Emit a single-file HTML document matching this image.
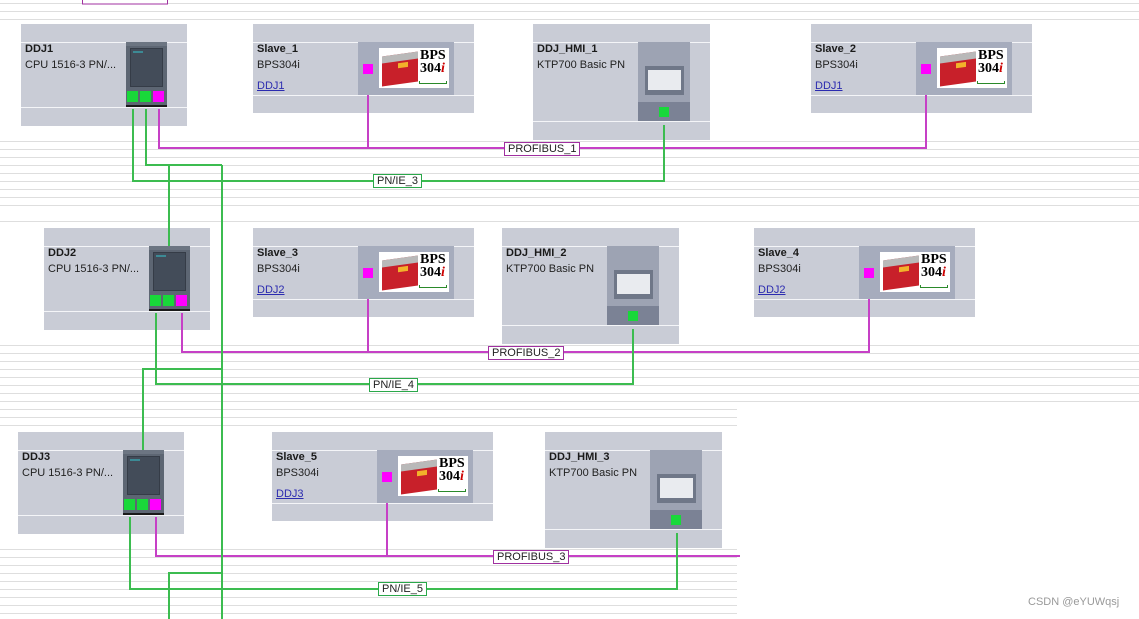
<!DOCTYPE html>
<html><head><meta charset="utf-8">
<style>
*{margin:0;padding:0;box-sizing:border-box}
body{width:1139px;height:619px;overflow:hidden;background:#fff;position:relative;font-family:"Liberation Sans",sans-serif;font-size:11px;color:#222}
.bg{position:absolute;left:0;top:0}
.n{position:absolute;background:#c9ccd6}
.n .l{position:absolute;left:0;right:0;height:1px;background:#f4f5f8}
.n .t{position:absolute;left:4px;line-height:13px;white-space:nowrap}
.n .b{font-weight:bold;color:#1a1a1a}
.n .k{color:#2b2bb0;text-decoration:underline}
.cpu{position:absolute;width:41px;height:65px;background:#5d6673;border-bottom:2px solid #1a1a1a}
.cpu .s{position:absolute;left:4px;top:6px;width:33px;height:39px;background:#434c59;border:1px solid #353c47}
.cpu .s:before{content:"";position:absolute;left:2px;top:2px;width:10px;height:2px;background:#3c8a95}
.cpu .tp{position:absolute;left:0;right:0;top:0;height:4px;background:#6c7582}
.p{position:absolute;width:11px;height:11px}
.g{background:#19d83a}.m{background:#f0f}
.sd{position:absolute;width:96px;height:53px;background:#a6acbd}
.img{position:absolute;left:21px;top:6px;width:70px;height:40px;background:#fff}
.dev{position:absolute;left:3px;top:6px;width:36px;height:30px;background:#c8202a;border-top:7px solid #b9b9b9;transform:skewY(-8deg)}
.dev:after{content:"";position:absolute;left:16px;top:2px;width:10px;height:5px;background:#f2b22a}
.bps{position:absolute;left:41px;top:1px;font-family:"Liberation Serif",serif;font-weight:bold;font-size:14px;line-height:13px;color:#000}
.bps i{color:#c00}
.ruler{position:absolute;left:40px;top:33px;width:28px;height:3px;border-bottom:1px solid #2a8a2a;border-left:1px solid #2a8a2a;border-right:1px solid #2a8a2a}
.hm{position:absolute;width:52px;height:79px;background:#9da3b3}
.hm .lo{position:absolute;left:0;right:0;bottom:0;height:19px;background:#7b8295}
.hm .sc{position:absolute;left:7px;top:24px;width:39px;height:29px;background:#6f7788;padding:4px 3px 5px 3px}
.hm .sc div{width:100%;height:100%;background:#e9ebef}
.lab{position:absolute;background:#fff;font-size:11px;line-height:12px;padding:0 3px;white-space:nowrap}
.lp{border:1px solid #a030a0}
.lg{border:1px solid #2aa84a}
</style></head><body>
<svg class="bg" width="1139" height="619">
<g stroke="#dedede" stroke-width="1">
<line x1="0" y1="3.5" x2="1139" y2="3.5"/><line x1="0" y1="11.5" x2="1139" y2="11.5"/><line x1="0" y1="19.5" x2="1139" y2="19.5"/>
<line x1="0" y1="141.5" x2="1139" y2="141.5"/><line x1="0" y1="149.5" x2="1139" y2="149.5"/><line x1="0" y1="157.5" x2="1139" y2="157.5"/><line x1="0" y1="165.5" x2="1139" y2="165.5"/><line x1="0" y1="173.5" x2="1139" y2="173.5"/><line x1="0" y1="181.5" x2="1139" y2="181.5"/><line x1="0" y1="189.5" x2="1139" y2="189.5"/><line x1="0" y1="197.5" x2="1139" y2="197.5"/><line x1="0" y1="205.5" x2="1139" y2="205.5"/><line x1="0" y1="221.5" x2="1139" y2="221.5"/>
<line x1="0" y1="345.5" x2="1139" y2="345.5"/><line x1="0" y1="353.5" x2="1139" y2="353.5"/><line x1="0" y1="361.5" x2="1139" y2="361.5"/><line x1="0" y1="369.5" x2="1139" y2="369.5"/><line x1="0" y1="377.5" x2="1139" y2="377.5"/><line x1="0" y1="385.5" x2="1139" y2="385.5"/><line x1="0" y1="393.5" x2="1139" y2="393.5"/><line x1="0" y1="401.5" x2="1139" y2="401.5"/>
<line x1="0" y1="409.5" x2="737" y2="409.5"/><line x1="0" y1="417.5" x2="737" y2="417.5"/><line x1="0" y1="425.5" x2="737" y2="425.5"/>
<line x1="0" y1="549.5" x2="737" y2="549.5"/><line x1="0" y1="557.5" x2="737" y2="557.5"/><line x1="0" y1="565.5" x2="737" y2="565.5"/><line x1="0" y1="573.5" x2="737" y2="573.5"/><line x1="0" y1="581.5" x2="737" y2="581.5"/><line x1="0" y1="589.5" x2="737" y2="589.5"/><line x1="0" y1="597.5" x2="737" y2="597.5"/><line x1="0" y1="605.5" x2="737" y2="605.5"/><line x1="0" y1="613.5" x2="737" y2="613.5"/>
</g>
<rect x="82.5" y="-5" width="85" height="9" fill="#fff" stroke="#a030a0"/>
</svg>

<!-- Row 1 -->
<div class="n" style="left:21px;top:24px;width:166px;height:102px"><div class="l" style="top:18px"></div><div class="l" style="top:83px"></div>
<div class="t b" style="top:19px">DDJ1</div><div class="t" style="top:35px">CPU 1516-3 PN/...</div>
<div class="cpu" style="left:105px;top:18px"><div class="tp"></div><div class="s"></div><div class="p g" style="left:1px;top:49px"></div><div class="p g" style="left:14px;top:49px"></div><div class="p m" style="left:27px;top:49px"></div></div></div>

<div class="n" style="left:253px;top:24px;width:221px;height:89px"><div class="l" style="top:18px"></div><div class="l" style="top:71px"></div>
<div class="t b" style="top:19px">Slave_1</div><div class="t" style="top:35px">BPS304i</div><div class="t k" style="top:56px">DDJ1</div>
<div class="sd" style="left:105px;top:18px"><div class="p m" style="left:5px;top:22px;width:10px;height:10px"></div><div class="img"><div class="dev"></div><div class="bps">BPS<br>304<i>i</i></div><div class="ruler"></div></div></div></div>

<div class="n" style="left:533px;top:24px;width:177px;height:116px"><div class="l" style="top:18px"></div><div class="l" style="top:97px"></div>
<div class="t b" style="top:19px">DDJ_HMI_1</div><div class="t" style="top:35px">KTP700 Basic PN</div>
<div class="hm" style="left:105px;top:18px"><div class="sc"><div></div></div><div class="lo"></div><div class="p g" style="left:21px;top:65px;width:10px;height:10px"></div></div></div>

<div class="n" style="left:811px;top:24px;width:221px;height:89px"><div class="l" style="top:18px"></div><div class="l" style="top:71px"></div>
<div class="t b" style="top:19px">Slave_2</div><div class="t" style="top:35px">BPS304i</div><div class="t k" style="top:56px">DDJ1</div>
<div class="sd" style="left:105px;top:18px"><div class="p m" style="left:5px;top:22px;width:10px;height:10px"></div><div class="img"><div class="dev"></div><div class="bps">BPS<br>304<i>i</i></div><div class="ruler"></div></div></div></div>

<!-- Row 2 -->
<div class="n" style="left:44px;top:228px;width:166px;height:102px"><div class="l" style="top:18px"></div><div class="l" style="top:83px"></div>
<div class="t b" style="top:19px">DDJ2</div><div class="t" style="top:35px">CPU 1516-3 PN/...</div>
<div class="cpu" style="left:105px;top:18px"><div class="tp"></div><div class="s"></div><div class="p g" style="left:1px;top:49px"></div><div class="p g" style="left:14px;top:49px"></div><div class="p m" style="left:27px;top:49px"></div></div></div>

<div class="n" style="left:253px;top:228px;width:221px;height:89px"><div class="l" style="top:18px"></div><div class="l" style="top:71px"></div>
<div class="t b" style="top:19px">Slave_3</div><div class="t" style="top:35px">BPS304i</div><div class="t k" style="top:56px">DDJ2</div>
<div class="sd" style="left:105px;top:18px"><div class="p m" style="left:5px;top:22px;width:10px;height:10px"></div><div class="img"><div class="dev"></div><div class="bps">BPS<br>304<i>i</i></div><div class="ruler"></div></div></div></div>

<div class="n" style="left:502px;top:228px;width:177px;height:116px"><div class="l" style="top:18px"></div><div class="l" style="top:97px"></div>
<div class="t b" style="top:19px">DDJ_HMI_2</div><div class="t" style="top:35px">KTP700 Basic PN</div>
<div class="hm" style="left:105px;top:18px"><div class="sc"><div></div></div><div class="lo"></div><div class="p g" style="left:21px;top:65px;width:10px;height:10px"></div></div></div>

<div class="n" style="left:754px;top:228px;width:221px;height:89px"><div class="l" style="top:18px"></div><div class="l" style="top:71px"></div>
<div class="t b" style="top:19px">Slave_4</div><div class="t" style="top:35px">BPS304i</div><div class="t k" style="top:56px">DDJ2</div>
<div class="sd" style="left:105px;top:18px"><div class="p m" style="left:5px;top:22px;width:10px;height:10px"></div><div class="img"><div class="dev"></div><div class="bps">BPS<br>304<i>i</i></div><div class="ruler"></div></div></div></div>

<!-- Row 3 -->
<div class="n" style="left:18px;top:432px;width:166px;height:102px"><div class="l" style="top:18px"></div><div class="l" style="top:83px"></div>
<div class="t b" style="top:19px">DDJ3</div><div class="t" style="top:35px">CPU 1516-3 PN/...</div>
<div class="cpu" style="left:105px;top:18px"><div class="tp"></div><div class="s"></div><div class="p g" style="left:1px;top:49px"></div><div class="p g" style="left:14px;top:49px"></div><div class="p m" style="left:27px;top:49px"></div></div></div>

<div class="n" style="left:272px;top:432px;width:221px;height:89px"><div class="l" style="top:18px"></div><div class="l" style="top:71px"></div>
<div class="t b" style="top:19px">Slave_5</div><div class="t" style="top:35px">BPS304i</div><div class="t k" style="top:56px">DDJ3</div>
<div class="sd" style="left:105px;top:18px"><div class="p m" style="left:5px;top:22px;width:10px;height:10px"></div><div class="img"><div class="dev"></div><div class="bps">BPS<br>304<i>i</i></div><div class="ruler"></div></div></div></div>

<div class="n" style="left:545px;top:432px;width:177px;height:116px"><div class="l" style="top:18px"></div><div class="l" style="top:97px"></div>
<div class="t b" style="top:19px">DDJ_HMI_3</div><div class="t" style="top:35px">KTP700 Basic PN</div>
<div class="hm" style="left:105px;top:18px"><div class="sc"><div></div></div><div class="lo"></div><div class="p g" style="left:21px;top:65px;width:10px;height:10px"></div></div></div>

<!-- connectors -->
<svg class="bg" width="1139" height="619" style="pointer-events:none">
<g fill="none" stroke="#c640c6" stroke-width="2">
<polyline points="159,109 159,148 926,148 926,95"/><line x1="368" y1="95" x2="368" y2="148"/>
<polyline points="182,313 182,352 869,352 869,299"/><line x1="368" y1="299" x2="368" y2="352"/>
<polyline points="156,517 156,556 740,556"/><line x1="387" y1="503" x2="387" y2="556"/>
</g>
<g fill="none" stroke="#3cbc50" stroke-width="2">
<polyline points="133,109 133,181 664,181 664,125"/>
<polyline points="146,109 146,165 222,165"/>
<line x1="169" y1="165" x2="169" y2="246"/>
<line x1="222" y1="165" x2="222" y2="619"/>
<polyline points="156,313 156,384 633,384 633,329"/>
<polyline points="143,450 143,369 222,369"/>
<polyline points="130,517 130,589 677,589 677,533"/>
<polyline points="169,619 169,573 222,573"/>
</g>
</svg>

<div class="lab lp" style="left:504px;top:142px">PROFIBUS_1</div>
<div class="lab lg" style="left:373px;top:174px">PN/IE_3</div>
<div class="lab lp" style="left:488px;top:346px">PROFIBUS_2</div>
<div class="lab lg" style="left:369px;top:378px">PN/IE_4</div>
<div class="lab lp" style="left:493px;top:550px">PROFIBUS_3</div>
<div class="lab lg" style="left:378px;top:582px">PN/IE_5</div>

<div style="position:absolute;left:1028px;top:596px;color:#999;font-size:11px">CSDN @eYUWqsj</div>
</body></html>
